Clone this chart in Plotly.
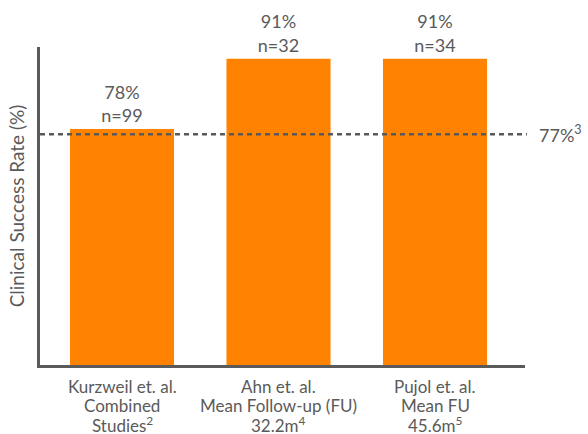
import plotly.graph_objects as go

# Study groups (x-axis labels, one list of lines per bar) and their clinical success rates
studies = [
    ["Kurzweil et. al.", "Combined", "Studies<sup>2</sup>"],
    ["Ahn et. al.", "Mean Follow-up (FU)", "32.2m<sup>4</sup>"],
    ["Pujol et. al.", "Mean FU", "45.6m<sup>5</sup>"],
]
success_rate = [78, 91, 91]
sample_size = [99, 32, 34]

# Reference benchmark rate drawn as a dotted line
benchmark_rate = 77
benchmark_label = "77%<sup>3</sup>"

text_color = "#5a5a5a"
bar_color = "#ff8300"
font_family = "Lato, 'Open Sans', sans-serif"

bar_text = [f"{r}%<br>n={n}" for r, n in zip(success_rate, sample_size)]
positions = list(range(len(studies)))

fig = go.Figure(
    go.Bar(
        x=positions,
        y=success_rate,
        marker=dict(color=bar_color, line=dict(width=0)),
        width=0.665,
        text=bar_text,
        textposition="outside",
        textfont=dict(color=text_color, size=18, family=font_family),
        cliponaxis=False,
    )
)

# Category labels under the axis, set line by line for tighter leading
for pos, lines in zip(positions, studies):
    for i, line in enumerate(lines):
        fig.add_annotation(
            xref="x", yref="paper",
            x=pos, y=0,
            text=line,
            showarrow=False,
            xanchor="center", yanchor="middle",
            yshift=-(21 + 19 * i),
            font=dict(color=text_color, size=17, family=font_family),
        )

fig.add_shape(
    type="line",
    xref="paper", yref="y",
    x0=0, x1=1.004,
    y0=benchmark_rate, y1=benchmark_rate,
    line=dict(color=text_color, width=2.5, dash="5px,4px"),
)
fig.add_annotation(
    xref="paper", yref="y",
    x=1.025, y=benchmark_rate,
    text=benchmark_label,
    showarrow=False,
    xanchor="left", yanchor="middle",
    font=dict(color=text_color, size=18, family=font_family),
)

fig.update_layout(
    width=588, height=434,
    margin=dict(l=40, r=63, t=47, b=69, autoexpand=False),
    plot_bgcolor="white",
    paper_bgcolor="white",
    showlegend=False,
    font=dict(family=font_family, color=text_color, size=17),
)
fig.update_xaxes(
    range=[-0.524, 2.575],
    showline=True, linecolor=text_color, linewidth=2.5,
    showgrid=False, zeroline=False, ticks="",
    showticklabels=False,
    automargin=False,
)
fig.update_yaxes(
    range=[34.2, 93.2],
    showline=True, linecolor=text_color, linewidth=2.5,
    showgrid=False, zeroline=False, showticklabels=False, ticks="",
    automargin=False,
    title=dict(text="Clinical Success Rate (%)", standoff=8,
               font=dict(size=19, color=text_color, family=font_family)),
)

fig.write_html("out.html")
